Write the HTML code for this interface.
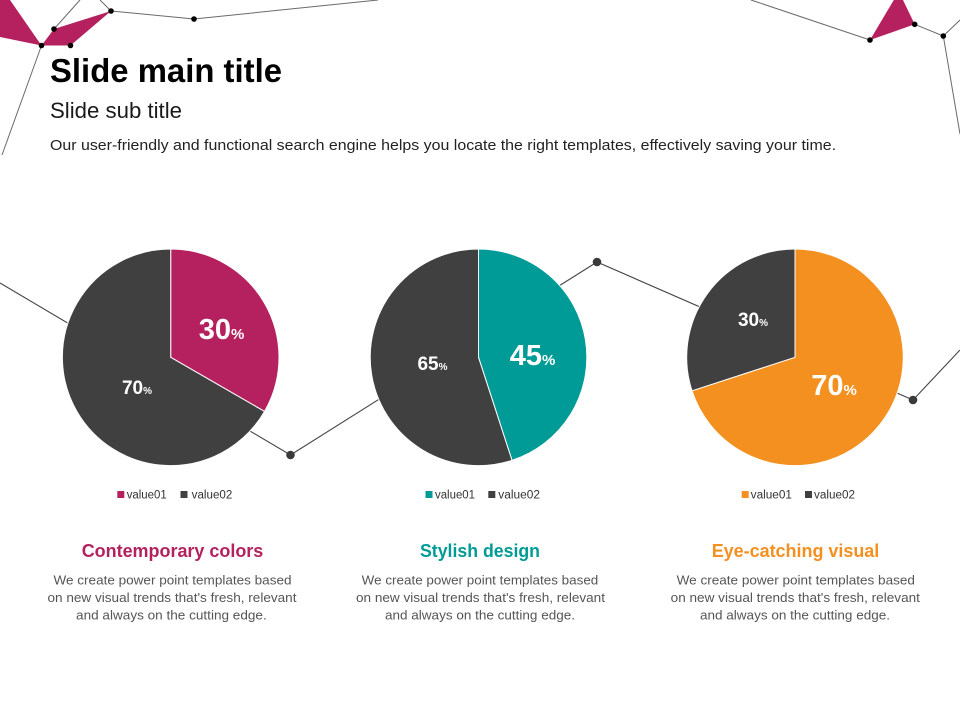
<!DOCTYPE html>
<html>
<head>
<meta charset="utf-8">
<style>
html,body{margin:0;padding:0;background:#fff;}
svg{display:block;}
text{font-family:"Liberation Sans",sans-serif;}
</style>
</head>
<body>
<svg width="960" height="720" viewBox="0 0 960 720" xmlns="http://www.w3.org/2000/svg">
<rect width="960" height="720" fill="#fff"/>

<!-- top-left decoration -->
<g stroke="#6a6a6a" stroke-width="1" fill="none">
  <line x1="41.5" y1="45.5" x2="2" y2="155"/>
  <line x1="54" y1="29" x2="80" y2="0"/>
  <line x1="111" y1="11" x2="100" y2="0"/>
  <polyline points="111,11 194,19 378,0"/>
</g>
<polygon points="0,0 10,0 41.5,45.5 0,37" fill="#B5215E"/>
<polygon points="41.5,45.5 54,29 111,11 70.5,45.5" fill="#B5215E"/>
<g fill="#000">
  <circle cx="41.5" cy="45.5" r="2.8"/>
  <circle cx="54" cy="29" r="2.8"/>
  <circle cx="70.5" cy="45.5" r="2.8"/>
  <circle cx="111" cy="11" r="2.8"/>
  <circle cx="194" cy="19" r="2.8"/>
</g>

<!-- top-right decoration -->
<g stroke="#6a6a6a" stroke-width="1" fill="none">
  <line x1="870" y1="40" x2="751" y2="0"/>
  <polyline points="914.7,24.3 943.3,36 960,20"/>
  <line x1="943.3" y1="36" x2="960" y2="134"/>
</g>
<polygon points="870,40 895,-2 902,-2 914.7,24.3" fill="#B5215E"/>
<g fill="#000">
  <circle cx="870" cy="40" r="2.8"/>
  <circle cx="914.7" cy="24.3" r="2.8"/>
  <circle cx="943.3" cy="36" r="2.8"/>
</g>

<!-- middle connecting lines -->
<g stroke="#444" stroke-width="1.1" fill="none">
  <polyline points="0,283 290.5,455 597,262 913,400 960,350"/>
</g>

<!-- Pie 1 -->
<path d="M170.7,357.3 L170.7,249 A108.3,108.3 0 0 1 264.5,411.45 Z" fill="#B5215E" stroke="#fff" stroke-width="1"/>
<path d="M170.7,357.3 L264.5,411.45 A108.3,108.3 0 1 1 170.7,249 Z" fill="#404040" stroke="#fff" stroke-width="1"/>

<!-- Pie 2 -->
<path d="M478.5,357.3 L478.5,249 A108.3,108.3 0 0 1 512,460.3 Z" fill="#009B96" stroke="#fff" stroke-width="1"/>
<path d="M478.5,357.3 L512,460.3 A108.3,108.3 0 1 1 478.5,249 Z" fill="#404040" stroke="#fff" stroke-width="1"/>

<!-- Pie 3 -->
<path d="M795,357.3 L795,249 A108.3,108.3 0 1 1 692,390.8 Z" fill="#F39020" stroke="#fff" stroke-width="1"/>
<path d="M795,357.3 L692,390.8 A108.3,108.3 0 0 1 795,249 Z" fill="#404040" stroke="#fff" stroke-width="1"/>

<!-- mid dots -->
<g fill="#3a3a3a">
  <circle cx="290.5" cy="455" r="4.3"/>
  <circle cx="597" cy="262" r="4.3"/>
  <circle cx="913" cy="400" r="4.3"/>
</g>

<!-- pie labels -->
<g fill="#fff" font-weight="bold" text-anchor="middle">
  <text x="221.5" y="339" font-size="29">30<tspan font-size="15">%</tspan></text>
  <text x="137" y="394" font-size="19">70<tspan font-size="10">%</tspan></text>
  <text x="532.5" y="365" font-size="29">45<tspan font-size="15">%</tspan></text>
  <text x="432.5" y="370" font-size="19">65<tspan font-size="10">%</tspan></text>
  <text x="753" y="326" font-size="19">30<tspan font-size="10">%</tspan></text>
  <text x="834" y="395" font-size="29">70<tspan font-size="15">%</tspan></text>
</g>

<!-- legends -->
<g font-size="11.5" fill="#333">
  <rect x="117.3" y="491" width="7" height="7" fill="#B5215E"/>
  <text x="126.7" y="498.5" textLength="40" lengthAdjust="spacingAndGlyphs">value01</text>
  <rect x="180.5" y="491" width="7" height="7" fill="#404040"/>
  <text x="191.7" y="498.5" textLength="40.6" lengthAdjust="spacingAndGlyphs">value02</text>

  <rect x="425.5" y="491" width="7" height="7" fill="#009B96"/>
  <text x="435" y="498.5" textLength="40" lengthAdjust="spacingAndGlyphs">value01</text>
  <rect x="488.3" y="491" width="7" height="7" fill="#404040"/>
  <text x="498.3" y="498.5" textLength="41.7" lengthAdjust="spacingAndGlyphs">value02</text>

  <rect x="741.7" y="491" width="7" height="7" fill="#F39020"/>
  <text x="750.7" y="498.5" textLength="41.3" lengthAdjust="spacingAndGlyphs">value01</text>
  <rect x="805" y="491" width="7" height="7" fill="#404040"/>
  <text x="814" y="498.5" textLength="41" lengthAdjust="spacingAndGlyphs">value02</text>
</g>

<!-- titles -->
<text x="50" y="82" font-size="33" font-weight="bold" fill="#000" textLength="232" lengthAdjust="spacingAndGlyphs">Slide main title</text>
<text x="50" y="118" font-size="22" fill="#1a1a1a" textLength="132" lengthAdjust="spacingAndGlyphs">Slide sub title</text>
<text x="50" y="150" font-size="14.5" fill="#222" textLength="786" lengthAdjust="spacingAndGlyphs">Our user-friendly and functional search engine helps you locate the right templates, effectively saving your time.</text>

<!-- bottom headings -->
<g font-size="18" font-weight="bold" text-anchor="middle">
  <text x="172.5" y="557" fill="#B5215E" textLength="181.6" lengthAdjust="spacingAndGlyphs">Contemporary colors</text>
  <text x="480" y="557" fill="#009B96" textLength="120" lengthAdjust="spacingAndGlyphs">Stylish design</text>
  <text x="795.5" y="557" fill="#F39020" textLength="167.6" lengthAdjust="spacingAndGlyphs">Eye-catching visual</text>
</g>

<!-- bottom body text -->
<g font-size="13" fill="#555" text-anchor="middle">
  <text x="172.5" y="584.5" textLength="238" lengthAdjust="spacingAndGlyphs">We create power point templates based</text>
  <text x="172" y="602" textLength="249" lengthAdjust="spacingAndGlyphs">on new visual trends that's fresh, relevant</text>
  <text x="171.4" y="619.5" textLength="190.7" lengthAdjust="spacingAndGlyphs">and always on the cutting edge.</text>

  <text x="480" y="584.5" textLength="236.6" lengthAdjust="spacingAndGlyphs">We create power point templates based</text>
  <text x="480.5" y="602" textLength="249" lengthAdjust="spacingAndGlyphs">on new visual trends that's fresh, relevant</text>
  <text x="480" y="619.5" textLength="190" lengthAdjust="spacingAndGlyphs">and always on the cutting edge.</text>

  <text x="795.8" y="584.5" textLength="238.3" lengthAdjust="spacingAndGlyphs">We create power point templates based</text>
  <text x="795.3" y="602" textLength="249.3" lengthAdjust="spacingAndGlyphs">on new visual trends that's fresh, relevant</text>
  <text x="795" y="619.5" textLength="190" lengthAdjust="spacingAndGlyphs">and always on the cutting edge.</text>
</g>
</svg>
</body>
</html>
